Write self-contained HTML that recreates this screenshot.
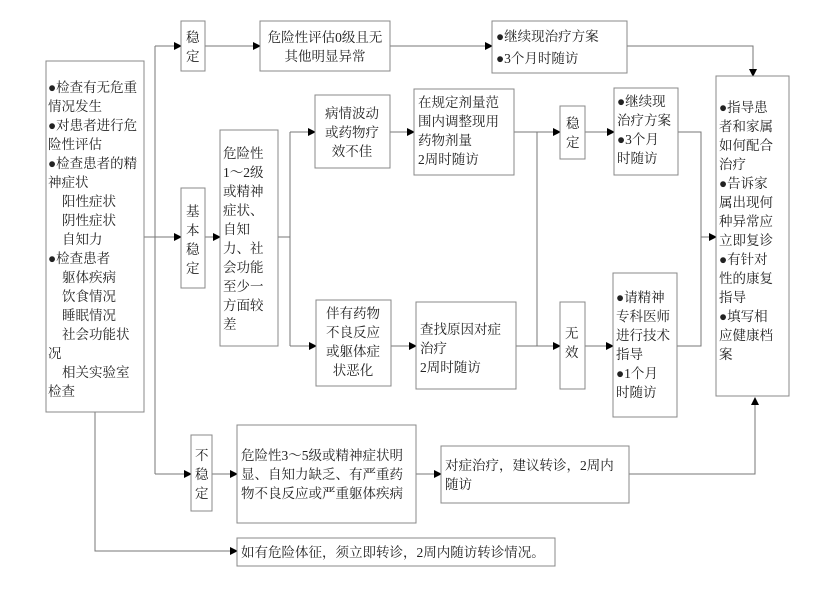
<!DOCTYPE html>
<html><head><meta charset="utf-8"><style>
body{margin:0;background:#fff}
text{font-family:"Liberation Serif","Noto Serif CJK SC","Noto Sans CJK SC",serif;font-size:13.5px;fill:#222}
rect{fill:#fff;stroke:#888;stroke-width:1}
line,polyline{stroke:#777;stroke-width:1;fill:none}
</style></head><body>
<svg width="837" height="584" xmlns="http://www.w3.org/2000/svg">
<defs><marker id="a" markerWidth="8" markerHeight="8" refX="7" refY="4" orient="auto" markerUnits="userSpaceOnUse"><path d="M0,0 L8,4 L0,8z" fill="#000"/></marker></defs>
<!-- connectors -->
<polyline points="144,237 155,237"/>
<polyline points="155,46 155,474"/>
<polyline points="155,46 181,46" marker-end="url(#a)"/>
<polyline points="155,237 181,237" marker-end="url(#a)"/>
<polyline points="155,474 191,474" marker-end="url(#a)"/>
<polyline points="205,46 260,46" marker-end="url(#a)"/>
<polyline points="390,46 492,46" marker-end="url(#a)"/>
<polyline points="627,46 753,46 753,76" marker-end="url(#a)"/>
<polyline points="205,237 220,237" marker-end="url(#a)"/>
<polyline points="278,237 290,237"/>
<polyline points="290,132 290,346"/>
<polyline points="290,132 315,132" marker-end="url(#a)"/>
<polyline points="290,346 316,346" marker-end="url(#a)"/>
<polyline points="390,132 414,132" marker-end="url(#a)"/>
<polyline points="391,346 416,346" marker-end="url(#a)"/>
<polyline points="514,132 537,132"/>
<polyline points="516,346 537,346"/>
<polyline points="537,132 537,346"/>
<polyline points="537,132 560,132" marker-end="url(#a)"/>
<polyline points="537,346 560,346" marker-end="url(#a)"/>
<polyline points="585,132 614,132" marker-end="url(#a)"/>
<polyline points="585,346 613,346" marker-end="url(#a)"/>
<polyline points="678,132 701,132 701,346 677,346"/>
<polyline points="701,237 716,237" marker-end="url(#a)"/>
<polyline points="212,474 237,474" marker-end="url(#a)"/>
<polyline points="416,474 441,474" marker-end="url(#a)"/>
<polyline points="629,474 755,474 755,398" marker-end="url(#a)"/>
<polyline points="95,412 95,551 237,551" marker-end="url(#a)"/>
<!-- boxes -->
<rect x="46" y="61" width="98" height="351"/>
<text x="48" y="92">●检查有无危重</text>
<text x="48" y="111">情况发生</text>
<text x="48" y="130">●对患者进行危</text>
<text x="48" y="149">险性评估</text>
<text x="48" y="168">●检查患者的精</text>
<text x="48" y="187">神症状</text>
<text x="62" y="206">阳性症状</text>
<text x="62" y="225">阴性症状</text>
<text x="62" y="244">自知力</text>
<text x="48" y="263">●检查患者</text>
<text x="62" y="282">躯体疾病</text>
<text x="62" y="301">饮食情况</text>
<text x="62" y="320">睡眠情况</text>
<text x="62" y="339">社会功能状</text>
<text x="48" y="358">况</text>
<text x="62" y="377">相关实验室</text>
<text x="48" y="396">检查</text>

<rect x="181" y="21" width="24" height="50"/>
<text x="186" y="42">稳</text><text x="186" y="61">定</text>
<rect x="260" y="21" width="130" height="50"/>
<text x="325" y="42" text-anchor="middle">危险性评估0级且无</text>
<text x="325" y="61" text-anchor="middle">其他明显异常</text>
<rect x="492" y="21" width="135" height="52"/>
<text x="496" y="41">●继续现治疗方案</text>
<text x="496" y="63">●3个月时随访</text>

<rect x="181" y="188" width="24" height="100"/>
<text x="186" y="216">基</text><text x="186" y="235">本</text><text x="186" y="254">稳</text><text x="186" y="273">定</text>
<rect x="220" y="130" width="58" height="216"/>
<text x="223" y="158">危险性</text>
<text x="223" y="177">1～2级</text>
<text x="223" y="196">或精神</text>
<text x="223" y="215">症状、</text>
<text x="223" y="234">自知</text>
<text x="223" y="253">力、社</text>
<text x="223" y="272">会功能</text>
<text x="223" y="291">至少一</text>
<text x="223" y="310">方面较</text>
<text x="223" y="329">差</text>

<rect x="315" y="95" width="75" height="73"/>
<text x="352" y="118" text-anchor="middle">病情波动</text>
<text x="352" y="137" text-anchor="middle">或药物疗</text>
<text x="352" y="156" text-anchor="middle">效不佳</text>
<rect x="414" y="89" width="100" height="86"/>
<text x="418" y="107">在规定剂量范</text>
<text x="418" y="126">围内调整现用</text>
<text x="418" y="145">药物剂量</text>
<text x="418" y="164">2周时随访</text>
<rect x="560" y="106" width="25" height="53"/>
<text x="566" y="128">稳</text><text x="566" y="147">定</text>
<rect x="614" y="88" width="64" height="87"/>
<text x="617" y="106">●继续现</text>
<text x="617" y="125">治疗方案</text>
<text x="617" y="144">●3个月</text>
<text x="617" y="163">时随访</text>

<rect x="316" y="300" width="75" height="86"/>
<text x="353" y="318" text-anchor="middle">伴有药物</text>
<text x="353" y="337" text-anchor="middle">不良反应</text>
<text x="353" y="356" text-anchor="middle">或躯体症</text>
<text x="353" y="375" text-anchor="middle">状恶化</text>
<rect x="416" y="302" width="100" height="87"/>
<text x="420" y="334">查找原因对症</text>
<text x="420" y="353">治疗</text>
<text x="420" y="372">2周时随访</text>
<rect x="560" y="302" width="25" height="87"/>
<text x="565" y="338">无</text><text x="565" y="357">效</text>
<rect x="613" y="273" width="64" height="144"/>
<text x="616" y="302">●请精神</text>
<text x="616" y="321">专科医师</text>
<text x="616" y="340">进行技术</text>
<text x="616" y="359">指导</text>
<text x="616" y="378">●1个月</text>
<text x="616" y="397">时随访</text>

<rect x="716" y="76" width="73" height="320"/>
<text x="719" y="112">●指导患</text>
<text x="719" y="131">者和家属</text>
<text x="719" y="150">如何配合</text>
<text x="719" y="169">治疗</text>
<text x="719" y="188">●告诉家</text>
<text x="719" y="207">属出现何</text>
<text x="719" y="226">种异常应</text>
<text x="719" y="245">立即复诊</text>
<text x="719" y="264">●有针对</text>
<text x="719" y="283">性的康复</text>
<text x="719" y="302">指导</text>
<text x="719" y="321">●填写相</text>
<text x="719" y="340">应健康档</text>
<text x="719" y="359">案</text>

<rect x="191" y="435" width="21" height="76"/>
<text x="195" y="460">不</text><text x="195" y="479">稳</text><text x="195" y="498">定</text>
<rect x="237" y="425" width="179" height="98"/>
<text x="241" y="460">危险性3～5级或精神症状明</text>
<text x="241" y="479">显、自知力缺乏、有严重药</text>
<text x="241" y="498">物不良反应或严重躯体疾病</text>
<rect x="441" y="446" width="188" height="57"/>
<text x="445" y="470">对症治疗，建议转诊，2周内</text>
<text x="445" y="489">随访</text>

<rect x="237" y="538" width="318" height="28"/>
<text x="241" y="557">如有危险体征，须立即转诊，2周内随访转诊情况。</text>
</svg>
</body></html>
